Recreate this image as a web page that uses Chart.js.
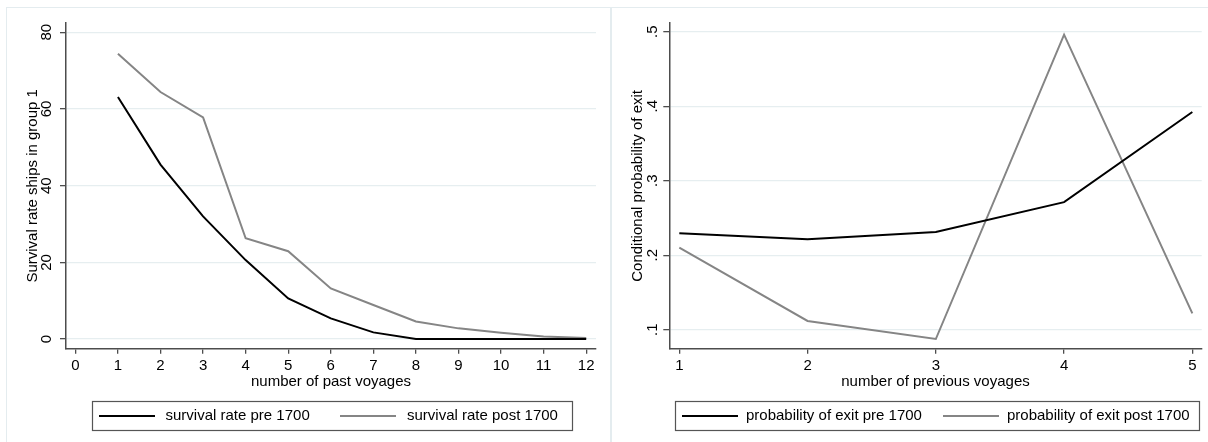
<!DOCTYPE html>
<html><head><meta charset="utf-8">
<script src="https://cdn.jsdelivr.net/npm/chart.js@4.4.1/dist/chart.umd.min.js"></script>
<style>
html,body{margin:0;padding:0;background:#fff;width:1208px;height:442px;overflow:hidden}
canvas{position:absolute;top:0}
#c1{left:0}
#c2{left:610px}
.frame{position:absolute;border:1px solid #e4ecef;box-sizing:border-box}
</style></head><body>
<div class="frame" style="left:6px;top:7px;width:605px;height:440px"></div>
<div class="frame" style="left:611px;top:7px;width:600px;height:440px"></div>
<canvas id="c1" width="610" height="442"></canvas>
<canvas id="c2" width="598" height="442"></canvas>
<script>
// ---------- data ----------
const survivalVoyages = [1,2,3,4,5,6,7,8,9,10,11,12];
const survivalPre1700 = [63.1,45.5,32.0,20.6,10.6,5.4,1.75,0,0,0,0,0];
const survivalPost1700 = [74.4,64.4,57.8,26.3,22.9,13.2,8.9,4.6,2.8,1.65,0.7,0.26];
const survivalXTicks = [0,1,2,3,4,5,6,7,8,9,10,11,12];
const survivalYTicks = [0,20,40,60,80];
const survivalYLabels = ['0','20','40','60','80'];

const exitVoyages = [1,2,3,4,5];
const exitPre1700 = [0.2296,0.2215,0.2313,0.2712,0.3922];
const exitPost1700 = [0.2102,0.1117,0.0875,0.4961,0.122];
const exitXTicks = [1,2,3,4,5];
const exitYTicks = [0.1,0.2,0.3,0.4,0.5];
const exitYLabels = ['.1','.2','.3','.4','.5'];

// ---------- helpers ----------
const FONT = '"Liberation Sans", Arial, Helvetica, sans-serif';
const AXIS = '#4d4d4d';
const GRID = '#e6eef0';
const pts = (xs, ys) => xs.map((x, i) => ({x: x, y: ys[i]}));

const stataPlugin = {
  id: 'stata',
  afterDraw(chart, args, o) {
    const ctx = chart.ctx, ys = chart.scales.y, ca = chart.chartArea;
    ctx.save();
    ctx.fillStyle = '#000';
    ctx.font = '15px ' + FONT;
    o.yTicks.forEach((v, i) => {
      const py = ys.getPixelForValue(v);
      ctx.save();
      ctx.translate(o.yLabelX, py);
      ctx.rotate(-Math.PI / 2);
      ctx.textAlign = 'center';
      ctx.textBaseline = 'middle';
      ctx.fillText(o.yLabels[i], 0, 0);
      ctx.restore();
    });
    ctx.save();
    ctx.translate(o.yTitleX, (ca.top + ca.bottom) / 2);
    ctx.rotate(-Math.PI / 2);
    ctx.textAlign = 'center';
    ctx.textBaseline = 'middle';
    ctx.fillText(o.yTitle, 0, 0);
    ctx.restore();
    // legend
    const L = o.legend;
    ctx.strokeStyle = '#555';
    ctx.lineWidth = 1.2;
    ctx.strokeRect(L.x + 0.5, L.y + 0.5, L.w, L.h);
    const my = L.y + L.h / 2 + 0.5;
    chart.data.datasets.forEach((ds, i) => {
      const it = L.items[i];
      ctx.strokeStyle = ds.borderColor;
      ctx.lineWidth = 2;
      ctx.beginPath(); ctx.moveTo(it.x0, my); ctx.lineTo(it.x1, my); ctx.stroke();
      ctx.fillStyle = '#000';
      ctx.textAlign = 'left';
      ctx.textBaseline = 'middle';
      ctx.fillText(ds.label, it.tx, my);
    });
    ctx.restore();
  }
};

function makeChart(id, cfg) {
  return new Chart(document.getElementById(id), {
    type: 'line',
    data: {
      datasets: [
        {label: cfg.labels[0], data: pts(cfg.xs, cfg.pre), borderColor: '#000', borderWidth: 2, pointRadius: 0, tension: 0},
        {label: cfg.labels[1], data: pts(cfg.xs, cfg.post), borderColor: '#858585', borderWidth: 2, pointRadius: 0, tension: 0}
      ]
    },
    options: {
      responsive: false, animation: false, devicePixelRatio: 1,
      layout: {padding: {top: 23, right: cfg.padRight, left: 0, bottom: 42}},
      plugins: {legend: {display: false}, tooltip: {enabled: false},
        stata: cfg.deco},
      scales: {
        x: {
          type: 'linear', min: cfg.xMin, max: cfg.xMax,
          afterBuildTicks: s => { s.ticks = cfg.xTicks.map(v => ({value: v})); },
          afterFit: s => { s.height = 51.3; },
          grid: {drawOnChartArea: false, drawTicks: true, tickLength: 5, color: AXIS, lineWidth: 1.3},
          border: {display: true, color: AXIS, width: 1.5},
          ticks: {color: '#000', font: {family: FONT, size: 15}, padding: 3, maxRotation: 0, autoSkip: false,
            callback: v => String(v)},
          title: {display: true, text: cfg.xTitle, color: '#000', font: {family: FONT, size: 15}, padding: {top: 0, bottom: 9}}
        },
        y: {
          type: 'linear', min: cfg.yMin, max: cfg.yMax,
          afterBuildTicks: s => { s.ticks = cfg.deco.yTicks.map(v => ({value: v})); },
          afterFit: s => { s.width = cfg.yWidth; },
          grid: {drawOnChartArea: true, drawTicks: true, tickLength: 6, color: GRID, lineWidth: 1.3, tickColor: AXIS, tickWidth: 1.3},
          border: {display: true, color: AXIS, width: 1.5},
          ticks: {display: false}
        }
      }
    },
    plugins: [stataPlugin]
  });
}

makeChart('c1', {
  xs: survivalVoyages, pre: survivalPre1700, post: survivalPost1700,
  labels: ['survival rate pre 1700', 'survival rate post 1700'],
  xMin: -0.22, xMax: 12.23, yMin: -2.5, yMax: 82.4,
  xTicks: survivalXTicks, xTitle: 'number of past voyages',
  padRight: 14, yWidth: 66,
  deco: {yTicks: survivalYTicks, yLabels: survivalYLabels, yLabelX: 46.5, yTitleX: 32.5,
    yTitle: 'Survival rate ships in group 1',
    legend: {x: 92, y: 401, w: 480, h: 29, items: [{x0: 99, x1: 155, tx: 165.5}, {x0: 340, x1: 396, tx: 407}]}}
});

makeChart('c2', {
  xs: exitVoyages, pre: exitPre1700, post: exitPost1700,
  labels: ['probability of exit pre 1700', 'probability of exit post 1700'],
  xMin: 0.922, xMax: 5.073, yMin: 0.0745, yMax: 0.5117,
  xTicks: exitXTicks, xTitle: 'number of previous voyages',
  padRight: 6.3, yWidth: 59.3,
  deco: {yTicks: exitYTicks, yLabels: exitYLabels, yLabelX: 43, yTitleX: 27.5,
    yTitle: 'Conditional probability of exit',
    legend: {x: 65, y: 401, w: 524, h: 29, items: [{x0: 72, x1: 128, tx: 136}, {x0: 333, x1: 389, tx: 397}]}}
});
</script>
</body></html>
